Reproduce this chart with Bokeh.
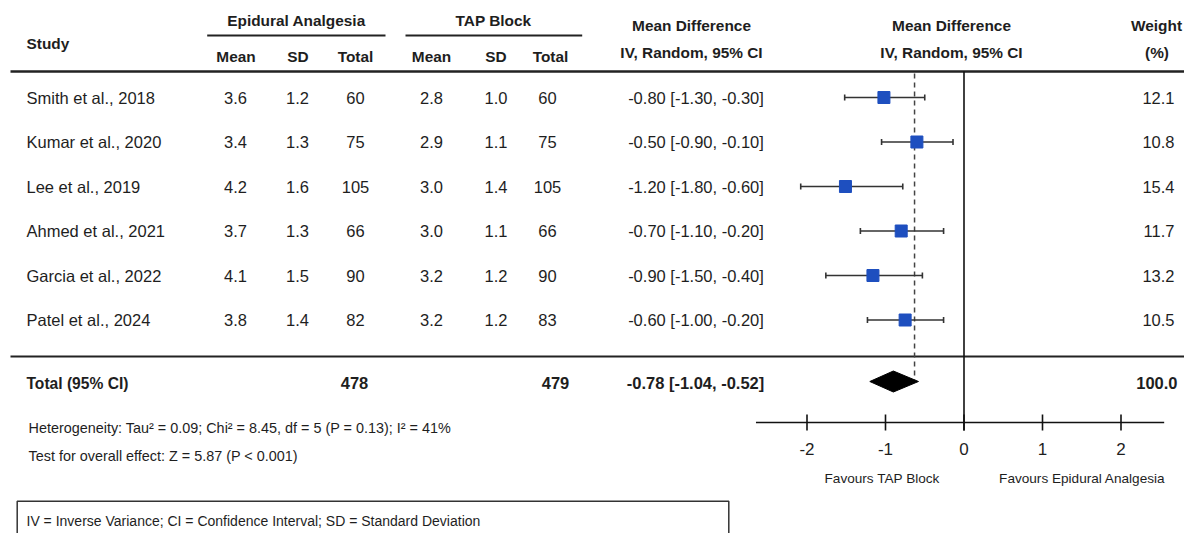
from bokeh.plotting import figure
from bokeh.models import Range1d
from bokeh.core.properties import value
from bokeh.embed import file_html
from bokeh.resources import INLINE

# ---------------- data ----------------
studies = ["Smith et al., 2018", "Kumar et al., 2020", "Lee et al., 2019",
           "Ahmed et al., 2021", "Garcia et al., 2022", "Patel et al., 2024"]
epi_mean = [3.6, 3.4, 4.2, 3.7, 4.1, 3.8]
epi_sd = [1.2, 1.3, 1.6, 1.3, 1.5, 1.4]
epi_total = [60, 75, 105, 66, 90, 82]
tap_mean = [2.8, 2.9, 3.0, 3.0, 3.2, 3.2]
tap_sd = [1.0, 1.1, 1.4, 1.1, 1.2, 1.2]
tap_total = [60, 75, 105, 66, 90, 83]
md = [-0.80, -0.50, -1.20, -0.70, -0.90, -0.60]
md_lo = [-1.30, -0.90, -1.80, -1.10, -1.50, -1.00]
md_hi = [-0.30, -0.10, -0.60, -0.20, -0.40, -0.20]
weights = [12.1, 10.8, 15.4, 11.7, 13.2, 10.5]
total_epi = 478
total_tap = 479
pooled_md, pooled_lo, pooled_hi = -0.78, -1.04, -0.52
pooled_weight = 100.0

# positions of the markers as drawn in the picture
plot_md = [-1.02, -0.60, -1.51, -0.80, -1.16, -0.75]
plot_lo = [-1.52, -1.05, -2.08, -1.32, -1.76, -1.23]
plot_hi = [-0.50, -0.14, -0.78, -0.26, -0.53, -0.26]
plot_pooled = [-1.20, -0.90, -0.58]   # diamond: low, estimate, high
plot_ref_line = -0.63                # dashed line
ticks = [-2, -1, 0, 1, 2]
tick_labels = ["-2", "-1", "0", "1", "2"]
axis_limits = [-2.65, 2.55]

heterogeneity = "Heterogeneity: Tau\u00b2 = 0.09; Chi\u00b2 = 8.45, df = 5 (P = 0.13); I\u00b2 = 41%"
overall = "Test for overall effect: Z = 5.87 (P < 0.001)"
footnote = "IV = Inverse Variance; CI = Confidence Interval; SD = Standard Deviation"

# ---------------- layout ----------------
FONT = value("Liberation Sans")
TXT = "#1e1e1e"
W, H = 1184, 533
ZERO_PX, PX_PER_UNIT = 963.5, 78.5

p = figure(width=W, height=H, output_backend="svg", toolbar_location=None,
           x_range=Range1d(0, W), y_range=Range1d(H, 0),
           x_axis_location=None, y_axis_location=None, min_border=0,
           outline_line_color=None, background_fill_color="white")
p.grid.grid_line_color = None
p.extra_x_ranges = {"md": Range1d((0 - ZERO_PX) / PX_PER_UNIT, (W - ZERO_PX) / PX_PER_UNIT)}

n = len(studies)
ROW0, STEP = 97, 44.5
ys = [ROW0 + i * STEP for i in range(n)]
Y_TOTAL = 382.5
ROW_FS = "16.5px"
HEAD_FS = "15.4px"


def txt(x, y, t, size=ROW_FS, align="center", bold=False, color=TXT):
    p.text(x=x, y=y, text=t, text_font=FONT, text_font_size=size,
           text_align=align, text_baseline="middle", text_color=color,
           text_font_style="bold" if bold else "normal")


# header
txt([26], [43], ["Study"], size=HEAD_FS, align="left", bold=True)
txt([296, 493], [20, 20], ["Epidural Analgesia", "TAP Block"], size=HEAD_FS, bold=True)
hx = [235.5, 297.5, 355, 431, 495.5, 550]
txt(hx, [55.5] * 6, ["Mean", "SD", "Total", "Mean", "SD", "Total"], size=HEAD_FS, bold=True)
txt([691, 951], [25, 25], ["Mean Difference", "Mean Difference"], size=HEAD_FS, bold=True)
txt([691, 951], [52, 52], ["IV, Random, 95% CI", "IV, Random, 95% CI"], size=HEAD_FS, bold=True)
txt([1156, 1156.5], [25, 52], ["Weight", "(%)"], size=HEAD_FS, bold=True)

# rules
p.segment(x0=[206.7, 405], x1=[385, 581.7], y0=[35, 35], y1=[35, 35],
          line_color="#222222", line_width=2)
p.segment(x0=[10], x1=[W], y0=[71], y1=[71], line_color="#222222", line_width=2.5)
p.segment(x0=[10], x1=[W], y0=[356], y1=[356], line_color="#222222", line_width=2)

# study rows
txt([26] * n, ys, studies, align="left")
txt([235] * n, ys, [f"{v:.1f}" for v in epi_mean])
txt([297] * n, ys, [f"{v:.1f}" for v in epi_sd])
txt([355] * n, ys, [str(v) for v in epi_total])
txt([431] * n, ys, [f"{v:.1f}" for v in tap_mean])
txt([495.5] * n, ys, [f"{v:.1f}" for v in tap_sd])
txt([547] * n, ys, [str(v) for v in tap_total])
txt([695.5] * n, ys, [f"{m:.2f} [{l:.2f}, {h:.2f}]" for m, l, h in zip(md, md_lo, md_hi)])
txt([1174] * n, ys, [f"{w:.1f}" for w in weights], align="right")

# total row
txt([26], [Y_TOTAL], ["Total (95% CI)"], size="15.6px", align="left", bold=True)
txt([354, 555], [Y_TOTAL] * 2, [str(total_epi), str(total_tap)], bold=True)
txt([695], [Y_TOTAL], [f"{pooled_md:.2f} [{pooled_lo:.2f}, {pooled_hi:.2f}]"], bold=True)
txt([1177], [Y_TOTAL], [f"{pooled_weight:.1f}"], align="right", bold=True)

# statistics text
txt([28, 28], [427, 455], [heterogeneity, overall], size="14.4px", align="left")

# footnote box
p.quad(left=[16.7], right=[728.3], top=[500.7], bottom=[560], fill_color=None,
       line_color="#333333", line_width=1.5)
txt([26], [520], [footnote], size="14px", align="left")

# ---------------- forest plot ----------------
p.segment(x0=[0], x1=[0], y0=[71], y1=[430], line_color="#111111", line_width=1.6,
          x_range_name="md")
p.segment(x0=[plot_ref_line], x1=[plot_ref_line], y0=[73], y1=[381],
          line_color="#444444", line_width=1.5, line_dash="5 4", x_range_name="md")
p.segment(x0=plot_lo, x1=plot_hi, y0=ys, y1=ys, line_color="#333333", line_width=1.6,
          x_range_name="md")
p.segment(x0=plot_lo + plot_hi, x1=plot_lo + plot_hi,
          y0=[y - 3 for y in ys] * 2, y1=[y + 3 for y in ys] * 2,
          line_color="#333333", line_width=1.6, x_range_name="md")
p.scatter(x=plot_md, y=ys, marker="square", size=12, fill_color="#1e4fbf",
          line_color="#1e4fbf", x_range_name="md")
lo, mid, hi = plot_pooled
p.patch(x=[lo, mid, hi, mid], y=[Y_TOTAL - 1.5, Y_TOTAL - 12, Y_TOTAL - 1.5, Y_TOTAL + 9],
        fill_color="black", line_color="black", x_range_name="md")

# axis drawn inside the panel
AX_Y = 422
p.segment(x0=[axis_limits[0]], x1=[axis_limits[1]], y0=[AX_Y], y1=[AX_Y],
          line_color="#111111", line_width=1.6, x_range_name="md")
p.segment(x0=ticks, x1=ticks, y0=[AX_Y - 8] * len(ticks), y1=[AX_Y + 8] * len(ticks),
          line_color="#111111", line_width=1.6, x_range_name="md")
p.text(x=ticks, y=[448] * len(ticks), text=tick_labels, text_font=FONT,
       text_font_size="17px", text_align="center", text_baseline="middle",
       text_color=TXT, x_range_name="md")
txt([881.7, 1081.7], [478, 478], ["Favours TAP Block", "Favours Epidural Analgesia"],
    size="13.6px")

open("out.html", "w").write(file_html(p, INLINE))
